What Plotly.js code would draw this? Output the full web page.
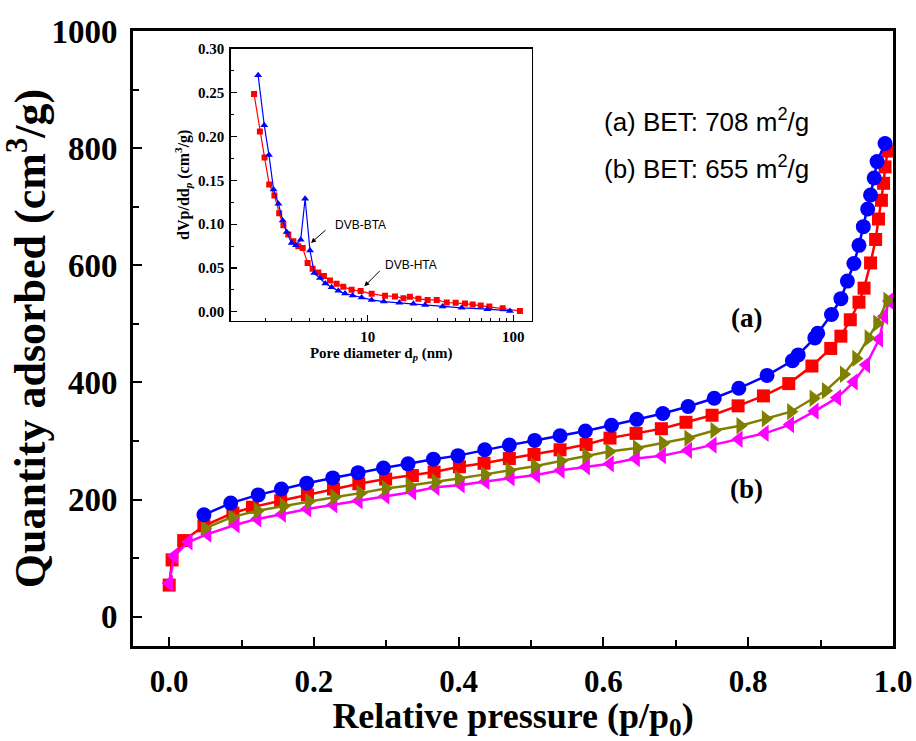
<!DOCTYPE html>
<html>
<head>
<meta charset="utf-8">
<script src="https://cdn.plot.ly/plotly-3.0.1.min.js"></script>
<style>html,body{margin:0;padding:0;background:#fff;}#chart{width:916px;height:741px;}</style>
</head>
<body>
<div id="chart"></div>
<script>
// Main isotherm data (relative pressure p/p0 vs quantity adsorbed, cm3/g)
const blueX = [0.048,0.085,0.123,0.155,0.190,0.226,0.261,0.296,0.330,0.365,0.399,0.436,0.470,0.505,0.540,0.575,0.611,0.646,0.682,0.717,0.753,0.787,0.826,0.861,0.869,0.892,0.896,0.915,0.928,0.937,0.946,0.953,0.959,0.965,0.969,0.974,0.978,0.989];
const blueY = [174,194,208,218,228,237,246,254,261,269,275,285,293,301,309,317,327,337,347,359,373,390,412,437,447,476,484,516,543,573,603,634,666,696,720,749,777,808];

const redX = [0.000,0.004,0.020,0.048,0.088,0.115,0.154,0.191,0.227,0.262,0.299,0.336,0.366,0.401,0.435,0.470,0.504,0.540,0.576,0.609,0.645,0.680,0.714,0.750,0.786,0.821,0.856,0.888,0.914,0.928,0.941,0.953,0.960,0.969,0.976,0.980,0.984,0.987,0.989,0.993];
const redY = [54,97,130,155,177,187,198,208,218,227,235,241,247,256,262,270,277,285,294,305,313,321,332,344,360,377,398,428,458,479,507,537,561,604,644,679,711,740,768,795];

const oliveX = [0.049,0.087,0.122,0.158,0.193,0.228,0.264,0.299,0.332,0.368,0.400,0.436,0.470,0.505,0.541,0.576,0.608,0.646,0.682,0.717,0.753,0.789,0.824,0.859,0.890,0.907,0.932,0.949,0.966,0.978,0.992];
const oliveY = [151,170,181,189,197,204,211,219,224,230,236,243,250,257,266,275,282,288,296,305,318,326,338,350,373,386,414,441,476,501,540];

const magentaX = [0.000,0.007,0.027,0.053,0.092,0.122,0.156,0.191,0.227,0.262,0.299,0.336,0.368,0.403,0.437,0.472,0.507,0.541,0.576,0.609,0.645,0.681,0.717,0.751,0.787,0.823,0.858,0.892,0.923,0.946,0.963,0.981,0.988,0.995];
const magentaY = [57,104,128,141,157,167,175,184,191,198,206,213,221,225,231,237,242,250,256,261,270,275,284,293,303,313,328,351,374,401,430,474,513,539];

// Inset: pore size distribution (pore diameter nm vs dVp/ddp)
const htaD = [1.66,1.82,1.96,2.11,2.29,2.47,2.64,2.85,3.09,3.34,3.58,3.87,4.19,4.58,5.01,5.51,6.12,6.80,7.76,8.95,10.65,13.15,15.4,17.6,19.5,22.3,25.8,29.8,34.9,40.2,46.6,52.6,59.7,68.4,84.5,111];
const htaV = [0.2485,0.2057,0.176,0.1454,0.1328,0.1126,0.0989,0.0882,0.0805,0.0748,0.0729,0.0557,0.0492,0.0450,0.0408,0.0359,0.0321,0.0286,0.0252,0.0237,0.0206,0.0183,0.0176,0.0156,0.0172,0.0149,0.0137,0.0137,0.0107,0.0103,0.0095,0.0084,0.0073,0.0061,0.0042,0.0011];

const btaD = [1.77,1.95,2.10,2.26,2.44,2.61,2.78,3.01,3.22,3.47,3.72,4.02,4.30,4.71,5.12,5.66,6.29,6.99,7.88,9.09,10.65,12.9,16.5,20.6,24.8,32.7,44.2,66.3,94.8];
const btaV = [0.270,0.213,0.179,0.1397,0.1233,0.1042,0.0912,0.0786,0.0760,0.0824,0.129,0.0699,0.0443,0.0386,0.0324,0.0282,0.0240,0.0210,0.0187,0.0164,0.0137,0.0118,0.0103,0.0092,0.0080,0.0061,0.0046,0.0031,0.0011];

const mainYTicks = [0,200,400,600,800,1000];
const mainXTicks = [0.0,0.2,0.4,0.6,0.8,1.0];
const mainXTickText = ['0.0','0.2','0.4','0.6','0.8','1.0'];
const insetYTicks = [0.00,0.05,0.10,0.15,0.20,0.25,0.30];
const insetYTickText = ['0.00','0.05','0.10','0.15','0.20','0.25','0.30'];
const insetXTicks = [10,100];
const insetXMinor = [2,3,4,5,6,7,8,9,20,30,40,50,60,70,80,90];

const serif = 'Liberation Serif, Times New Roman, serif';
const sans = 'Liberation Sans, Arial, sans-serif';

const traces = [
  {x: redX, y: redY, mode: 'lines+markers', type: 'scatter', xaxis: 'x', yaxis: 'y',
   line: {color: '#FF0000', width: 2.5}, marker: {symbol: 'square', size: 13, color: '#FF0000'}},
  {x: magentaX, y: magentaY, mode: 'lines+markers', type: 'scatter', xaxis: 'x', yaxis: 'y',
   line: {color: '#FF00FF', width: 2.5}, marker: {symbol: 'triangle-left', size: 15, color: '#FF00FF'}},
  {x: oliveX, y: oliveY, mode: 'lines+markers', type: 'scatter', xaxis: 'x', yaxis: 'y',
   line: {color: '#808000', width: 2.5}, marker: {symbol: 'triangle-right', size: 15, color: '#808000'}},
  {x: blueX, y: blueY, mode: 'lines+markers', type: 'scatter', xaxis: 'x', yaxis: 'y',
   line: {color: '#0000FF', width: 2.5}, marker: {symbol: 'circle', size: 15, color: '#0000FF'}},
  {x: htaD, y: htaV, mode: 'lines+markers', type: 'scatter', xaxis: 'x2', yaxis: 'y2',
   line: {color: '#FF0000', width: 1.2}, marker: {symbol: 'square', size: 6, color: '#FF0000'}},
  {x: btaD, y: btaV, mode: 'lines+markers', type: 'scatter', xaxis: 'x2', yaxis: 'y2',
   line: {color: '#0000FF', width: 1.2}, marker: {symbol: 'triangle-up', size: 7, color: '#0000FF'}}
];

const layout = {
  width: 916, height: 741,
  margin: {l: 133, r: 23, t: 31, b: 95},
  paper_bgcolor: '#ffffff', plot_bgcolor: '#ffffff',
  showlegend: false,
  xaxis: {
    range: [-0.05, 1.0], domain: [0, 1],
    showline: true, linecolor: '#000', linewidth: 3, mirror: true,
    showgrid: false, zeroline: false,
    ticks: 'inside', ticklen: 9, tickwidth: 2, tickcolor: '#000',
    tickvals: mainXTicks, ticktext: mainXTickText,
    minor: {ticks: 'inside', ticklen: 6, tickwidth: 2, tickcolor: '#000', dtick: 0.1, tick0: 0, showgrid: false},
    tickfont: {family: serif, size: 31, color: '#000', weight: 'bold'},
    ticklabelstandoff: 6,
    title: {text: '<b>Relative pressure (p/p<sub>0</sub>)</b>', font: {family: serif, size: 36, color: '#000'}, standoff: 8}
  },
  yaxis: {
    range: [-50, 1000], domain: [0, 1],
    showline: true, linecolor: '#000', linewidth: 3, mirror: true,
    showgrid: false, zeroline: false,
    ticks: 'inside', ticklen: 9, tickwidth: 2, tickcolor: '#000',
    tickvals: mainYTicks,
    minor: {ticks: 'inside', ticklen: 6, tickwidth: 2, tickcolor: '#000', dtick: 100, tick0: 0, showgrid: false},
    tickfont: {family: serif, size: 33, color: '#000', weight: 'bold'},
    ticklabelstandoff: 6,
    title: {text: '<b>Quantity adsorbed (cm<sup>3</sup>/g)</b>', font: {family: serif, size: 44, color: '#000'}, standoff: 4}
  },
  xaxis2: {
    type: 'log', range: [0.06, 2.126], domain: [0.1286, 0.5246], anchor: 'y2',
    showline: true, linecolor: '#000', linewidth: 1.5, mirror: true,
    showgrid: false, zeroline: false,
    ticks: 'inside', ticklen: 6, tickwidth: 1.2, tickcolor: '#000',
    tickvals: insetXTicks, ticktext: ['10', '100'],
    minor: {ticks: 'inside', ticklen: 3, tickwidth: 1, tickcolor: '#000', tickmode: 'array', tickvals: insetXMinor, showgrid: false},
    tickfont: {family: serif, size: 15, color: '#000', weight: 'bold'},
    ticklabelstandoff: 2,
    title: {text: '<b>Pore diameter d<sub><i>p</i></sub> (nm)</b>', font: {family: serif, size: 15, color: '#000'}, standoff: 1}
  },
  yaxis2: {
    range: [-0.01, 0.30], domain: [0.529, 0.971], anchor: 'x2',
    showline: true, linecolor: '#000', linewidth: 1.5, mirror: true,
    showgrid: false, zeroline: false,
    ticks: 'inside', ticklen: 6, tickwidth: 1.2, tickcolor: '#000',
    tickvals: insetYTicks, ticktext: insetYTickText,
    minor: {ticks: 'inside', ticklen: 3, tickwidth: 1, tickcolor: '#000', dtick: 0.025, tick0: 0, showgrid: false},
    tickfont: {family: serif, size: 15, color: '#000', weight: 'bold'},
    ticklabelstandoff: 2,
    title: {text: '<b>dVp/dd<sub><i>p</i></sub> (cm<sup>3</sup>/g)</b>', font: {family: serif, size: 16, color: '#000'}, standoff: 4}
  },
  annotations: [
    {xref: 'x', yref: 'y', x: 0.742, y: 848, text: '(a) BET: 708 m<sup>2</sup>/g', showarrow: false,
     font: {family: sans, size: 26, color: '#000'}, xanchor: 'center', yanchor: 'middle'},
    {xref: 'x', yref: 'y', x: 0.742, y: 767, text: '(b) BET: 655 m<sup>2</sup>/g', showarrow: false,
     font: {family: sans, size: 26, color: '#000'}, xanchor: 'center', yanchor: 'middle'},
    {xref: 'x', yref: 'y', x: 0.798, y: 510, text: '<b>(a)</b>', showarrow: false,
     font: {family: serif, size: 27, color: '#000'}, xanchor: 'center', yanchor: 'middle'},
    {xref: 'x', yref: 'y', x: 0.798, y: 218, text: '<b>(b)</b>', showarrow: false,
     font: {family: serif, size: 27, color: '#000'}, xanchor: 'center', yanchor: 'middle'},
    {xref: 'x2', yref: 'y2', x: 0.762, y: 0.0993, text: 'DVB-BTA', showarrow: false,
     font: {family: sans, size: 12, color: '#000'}, xanchor: 'left', yanchor: 'middle'},
    {xref: 'x2', yref: 'y2', x: 0.611, y: 0.0787, ax: 16, ay: -14, text: '', showarrow: true,
     arrowhead: 2, arrowsize: 1, arrowwidth: 1, arrowcolor: '#000'},
    {xref: 'x2', yref: 'y2', x: 1.105, y: 0.0538, text: 'DVB-HTA', showarrow: false,
     font: {family: sans, size: 12, color: '#000'}, xanchor: 'left', yanchor: 'middle'},
    {xref: 'x2', yref: 'y2', x: 0.977, y: 0.0291, ax: 17, ay: -17, text: '', showarrow: true,
     arrowhead: 2, arrowsize: 1, arrowwidth: 1, arrowcolor: '#000'}
  ]
};

Plotly.newPlot('chart', traces, layout, {displayModeBar: false, staticPlot: true});
</script>
</body>
</html>
